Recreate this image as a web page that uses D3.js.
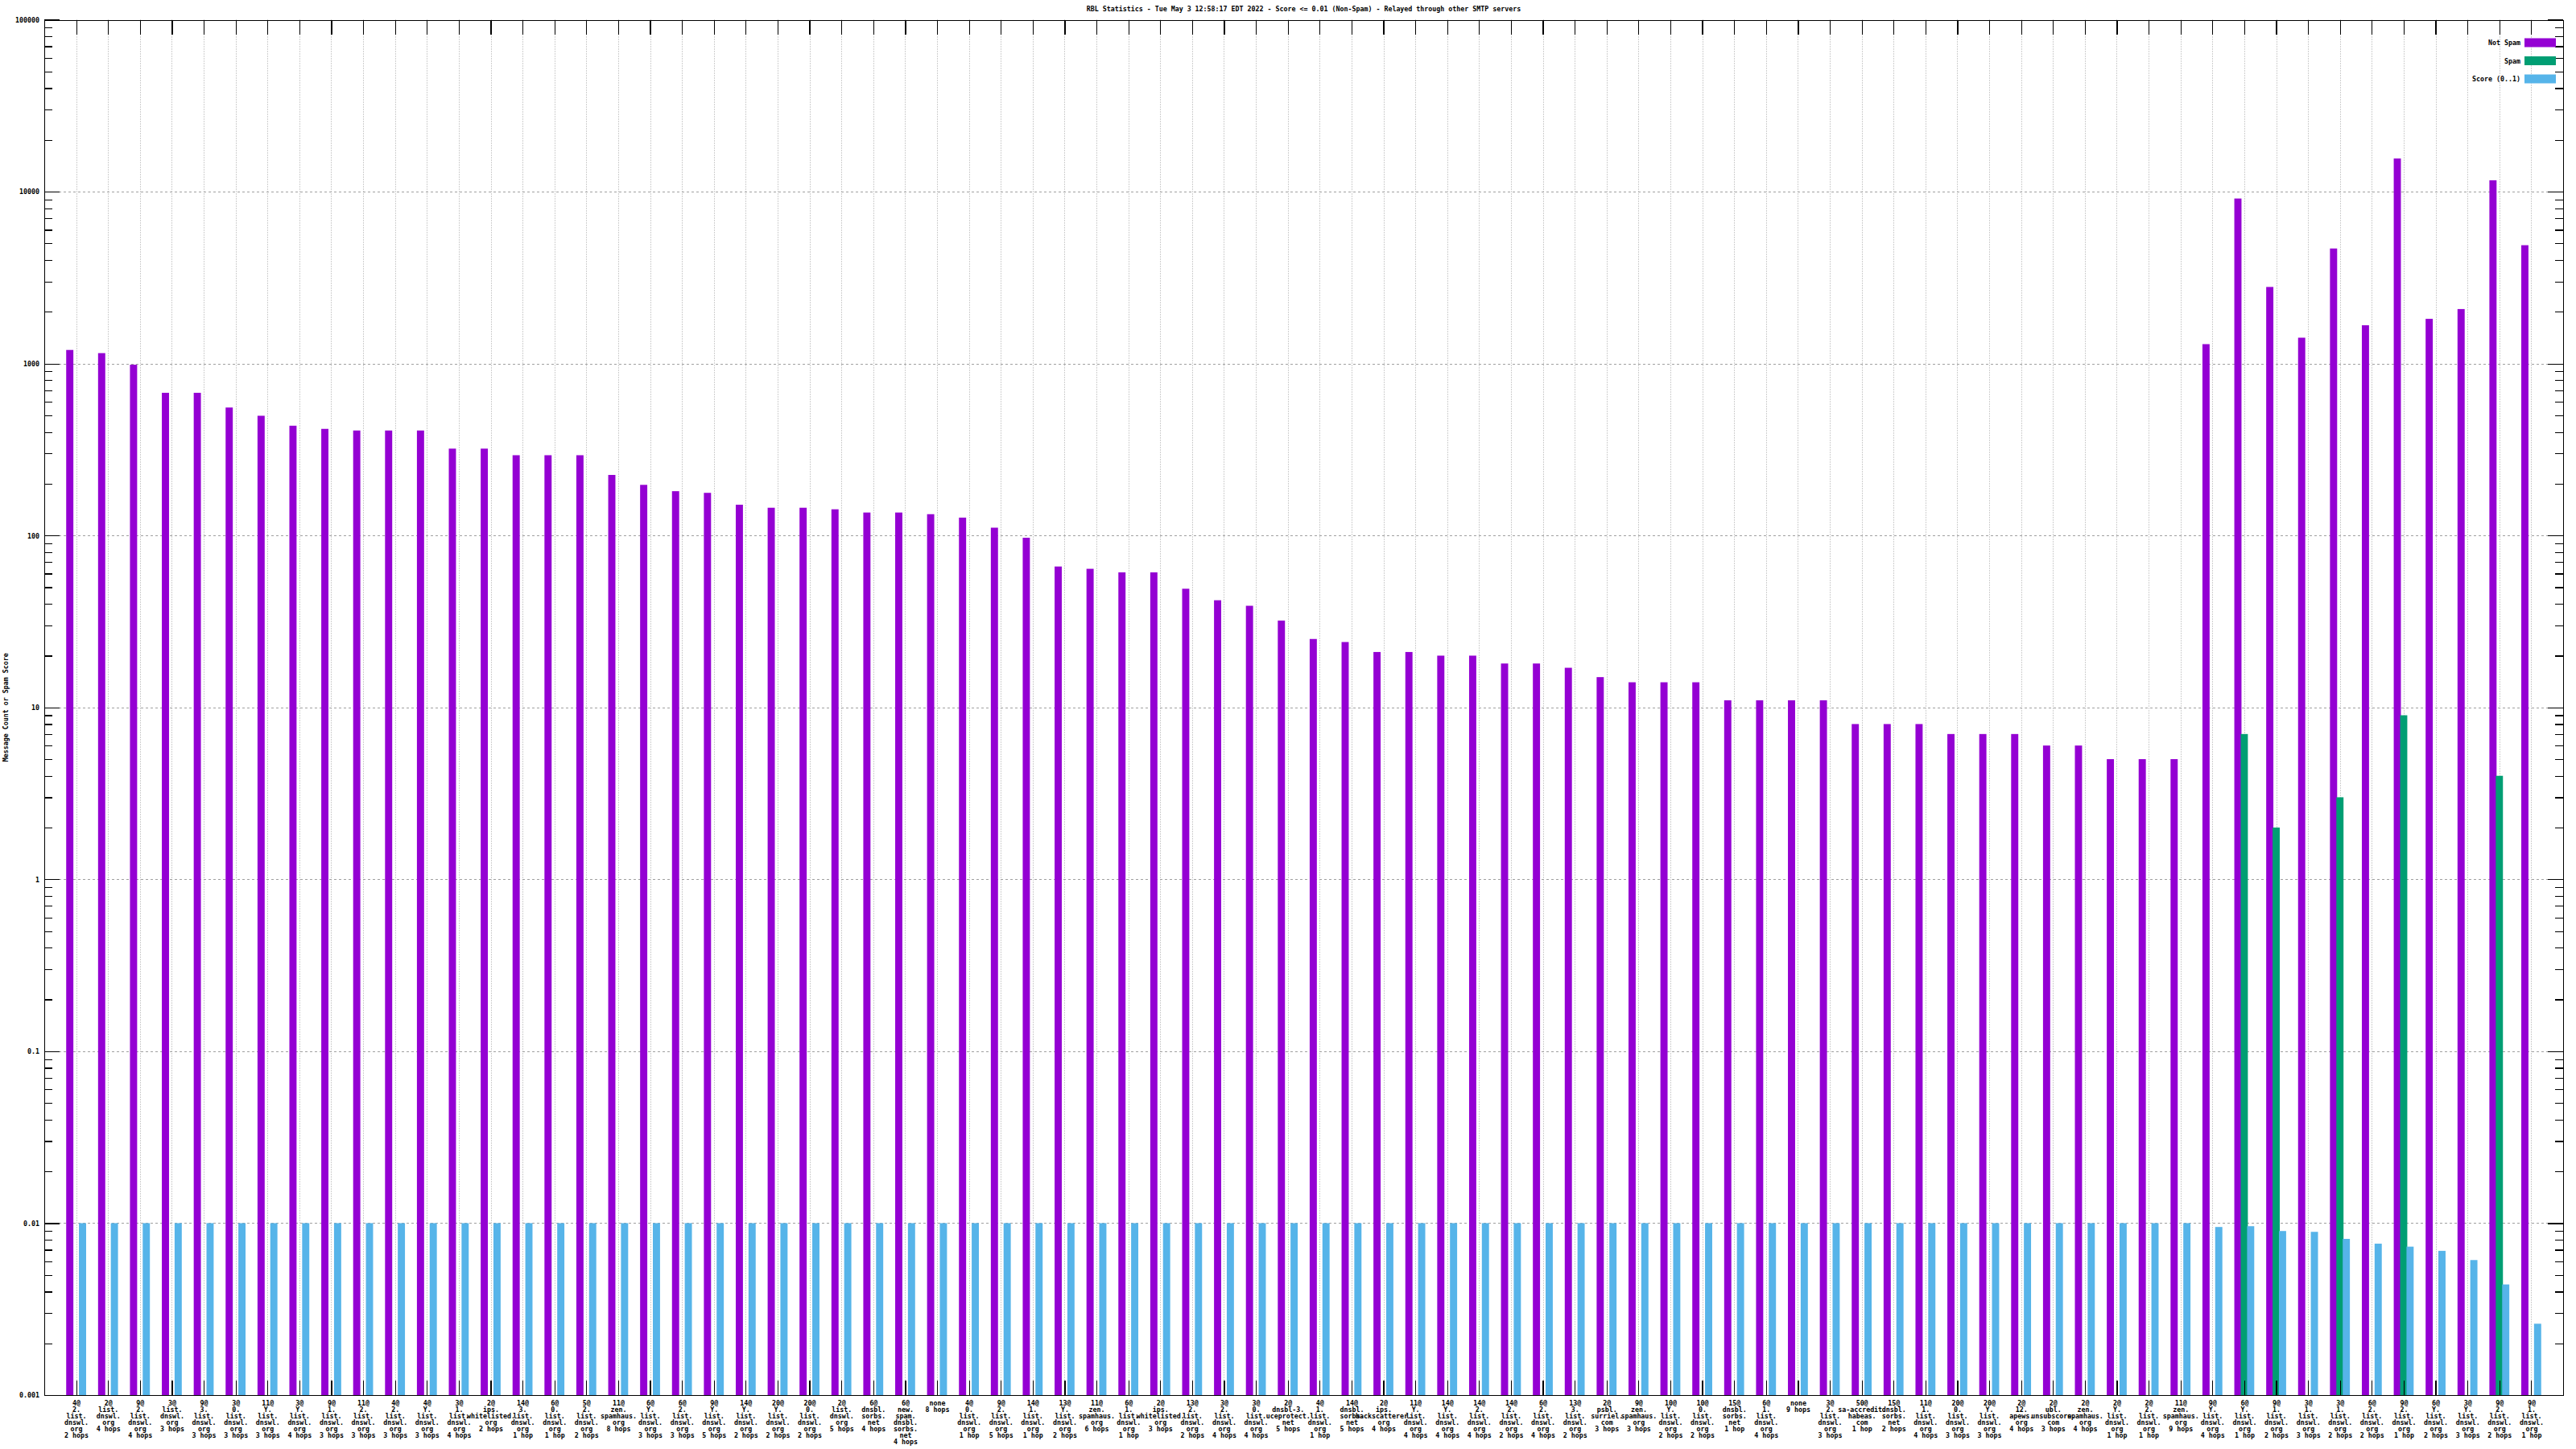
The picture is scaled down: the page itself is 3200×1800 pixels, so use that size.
<!DOCTYPE html>
<html>
<head>
<meta charset="utf-8">
<script src="https://cdn.jsdelivr.net/npm/d3@7"></script>
<style>
  html, body { margin: 0; padding: 0; background: #fff; }
  svg { display: block; }
  text { font-family: "DejaVu Sans Mono", "Liberation Mono", monospace; font-size: 8.3px; font-weight: bold; fill: #000; }
</style>
</head>
<body>
<script>
// ---------------- DATA ----------------
const categories = [
  "4@2.list.dnswl.org 2 hops", "2@list.dnswl.org 4 hops", "9@2.list.dnswl.org 4 hops", "3@list.dnswl.org 3 hops",
  "9@3.list.dnswl.org 3 hops", "3@0.list.dnswl.org 3 hops", "11@Y.list.dnswl.org 3 hops", "3@Y.list.dnswl.org 4 hops",
  "9@1.list.dnswl.org 3 hops", "11@2.list.dnswl.org 3 hops", "4@2.list.dnswl.org 3 hops", "4@Y.list.dnswl.org 3 hops",
  "3@1.list.dnswl.org 4 hops", "2@ips.whitelisted.org 2 hops", "14@3.list.dnswl.org 1 hop", "6@0.list.dnswl.org 1 hop",
  "5@2.list.dnswl.org 2 hops", "11@zen.spamhaus.org 8 hops", "6@Y.list.dnswl.org 3 hops", "6@2.list.dnswl.org 3 hops",
  "9@Y.list.dnswl.org 5 hops", "14@Y.list.dnswl.org 2 hops", "20@Y.list.dnswl.org 2 hops", "20@0.list.dnswl.org 2 hops",
  "2@list.dnswl.org 5 hops", "6@dnsbl.sorbs.net 4 hops", "6@new.spam.dnsbl.sorbs.net 4 hops", "none 8 hops",
  "4@0.list.dnswl.org 1 hop", "9@2.list.dnswl.org 5 hops", "14@1.list.dnswl.org 1 hop", "13@Y.list.dnswl.org 2 hops",
  "11@zen.spamhaus.org 6 hops", "6@1.list.dnswl.org 1 hop", "2@ips.whitelisted.org 3 hops", "13@2.list.dnswl.org 2 hops",
  "3@2.list.dnswl.org 4 hops", "3@0.list.dnswl.org 4 hops", "2@dnsbl-3.uceprotect.net 5 hops", "4@1.list.dnswl.org 1 hop",
  "14@dnsbl.sorbs.net 5 hops", "2@ips.backscatterer.org 4 hops", "11@Y.list.dnswl.org 4 hops", "14@Y.list.dnswl.org 4 hops",
  "14@2.list.dnswl.org 4 hops", "14@2.list.dnswl.org 2 hops", "6@2.list.dnswl.org 4 hops", "13@3.list.dnswl.org 2 hops",
  "2@psbl.surriel.com 3 hops", "9@zen.spamhaus.org 3 hops", "10@Y.list.dnswl.org 2 hops", "10@0.list.dnswl.org 2 hops",
  "15@dnsbl.sorbs.net 1 hop", "6@1.list.dnswl.org 4 hops", "none 9 hops", "3@2.list.dnswl.org 3 hops",
  "50@sa-accredit.habeas.com 1 hop", "15@dnsbl.sorbs.net 2 hops", "11@1.list.dnswl.org 4 hops", "20@0.list.dnswl.org 3 hops",
  "20@Y.list.dnswl.org 3 hops", "2@12.apews.org 4 hops", "2@ubl.unsubscore.com 3 hops", "2@zen.spamhaus.org 4 hops",
  "2@Y.list.dnswl.org 1 hop", "2@2.list.dnswl.org 1 hop", "11@zen.spamhaus.org 9 hops", "9@Y.list.dnswl.org 4 hops",
  "6@Y.list.dnswl.org 1 hop", "9@1.list.dnswl.org 2 hops", "3@1.list.dnswl.org 3 hops", "3@1.list.dnswl.org 2 hops",
  "6@2.list.dnswl.org 2 hops", "9@2.list.dnswl.org 1 hop", "6@Y.list.dnswl.org 2 hops", "3@Y.list.dnswl.org 3 hops",
  "9@2.list.dnswl.org 2 hops", "9@1.list.dnswl.org 1 hop"
];

const notSpam = [
  1200, 1150, 985, 676, 676, 555, 497, 435, 417, 408,
  408, 408, 320, 320, 293, 293, 293, 225, 197, 181,
  177, 151, 145, 145, 142, 136, 136, 133, 127, 111,
  97, 66, 64, 61, 61, 49, 42, 39, 32, 25,
  24, 21, 21, 20, 20, 18, 18, 17, 15, 14,
  14, 14, 11, 11, 11, 11, 8, 8, 8, 7,
  7, 7, 6, 6, 5, 5, 5, 1297, 9120, 2790,
  1414, 4670, 1670, 15600, 1820, 2075, 11640, 4880
];

const spam = [
  0, 0, 0, 0, 0, 0, 0, 0, 0, 0,
  0, 0, 0, 0, 0, 0, 0, 0, 0, 0,
  0, 0, 0, 0, 0, 0, 0, 0, 0, 0,
  0, 0, 0, 0, 0, 0, 0, 0, 0, 0,
  0, 0, 0, 0, 0, 0, 0, 0, 0, 0,
  0, 0, 0, 0, 0, 0, 0, 0, 0, 0,
  0, 0, 0, 0, 0, 0, 0, 0, 7, 2,
  0, 3, 0, 9, 0, 0, 4, 0
];

const score = [
  0.01, 0.01, 0.01, 0.01, 0.01, 0.01, 0.01, 0.01, 0.01, 0.01,
  0.01, 0.01, 0.01, 0.01, 0.01, 0.01, 0.01, 0.01, 0.01, 0.01,
  0.01, 0.01, 0.01, 0.01, 0.01, 0.01, 0.01, 0.01, 0.01, 0.01,
  0.01, 0.01, 0.01, 0.01, 0.01, 0.01, 0.01, 0.01, 0.01, 0.01,
  0.01, 0.01, 0.01, 0.01, 0.01, 0.01, 0.01, 0.01, 0.01, 0.01,
  0.01, 0.01, 0.01, 0.01, 0.01, 0.01, 0.01, 0.01, 0.01, 0.01,
  0.01, 0.01, 0.01, 0.01, 0.01, 0.01, 0.01, 0.0095, 0.0096, 0.009,
  0.0089, 0.0081, 0.0076, 0.0073, 0.0069, 0.0061, 0.0044, 0.0026
];

const yTicks = [0.001, 0.01, 0.1, 1, 10, 100, 1000, 10000, 100000];
const yTickLabels = ["0.001", "0.01", "0.1", "1", "10", "100", "1000", "10000", "100000"];
const seriesNames = ["Not Spam", "Spam", "Score (0..1)"];
const seriesColors = ["#9400d3", "#009e73", "#56b4e9"];
const title = "RBL Statistics - Tue May  3 12:58:17 EDT 2022 - Score <= 0.01 (Non-Spam) - Relayed through other SMTP servers";
const yLabel = "Message Count or Spam Score";

// ---------------- LAYOUT ----------------
const W = 3200, H = 1800;
const L = 55, R = 3184, T = 24.5, B = 1733;

const svg = d3.select("body").append("svg").attr("width", W).attr("height", H);

const x = d3.scaleLinear().domain([-1, categories.length]).range([L, R]);
const y = d3.scaleLog().domain([0.001, 100000]).range([B, T]);
const unit = x(1) - x(0);

const minorTicks = [];
for (let e = -3; e < 5; e++) for (let m = 2; m <= 9; m++) minorTicks.push(m * Math.pow(10, e));

// grid
const grid = svg.append("g");
grid.selectAll("line.hg").data(yTicks.slice(1, -1)).enter().append("line")
  .attr("x1", L).attr("x2", R).attr("y1", d => Math.round(y(d)) + 0.5).attr("y2", d => Math.round(y(d)) + 0.5)
  .attr("stroke", "#a0a0a0").attr("stroke-width", 1).attr("stroke-dasharray", "3,3");
grid.selectAll("line.vg").data(d3.range(categories.length)).enter().append("line")
  .attr("x1", d => Math.round(x(d)) + 0.5).attr("x2", d => Math.round(x(d)) + 0.5).attr("y1", T).attr("y2", B)
  .attr("stroke", "#a0a0a0").attr("stroke-width", 1).attr("stroke-dasharray", "1,2");

// bars
const series = [notSpam, spam, score];
const offsets = [-0.2, 0, 0.2];
const bw = 0.225 * unit;
series.forEach((vals, s) => {
  svg.append("g").selectAll("rect").data(vals.map((v, i) => ({ v, i })).filter(d => d.v > 0)).enter().append("rect")
    .attr("x", d => x(d.i + offsets[s]) - bw / 2)
    .attr("width", bw)
    .attr("y", d => y(d.v))
    .attr("height", d => B - y(d.v))
    .attr("fill", seriesColors[s]);
});

// axes
function styleAxis(g) {
  g.selectAll("path.domain").attr("stroke", "#000").attr("stroke-width", 1).attr("shape-rendering", "crispEdges");
  g.selectAll(".tick line").attr("stroke", "#000").attr("stroke-width", 1.2).attr("shape-rendering", "crispEdges");
}

// left major
const yAxisL = svg.append("g").attr("transform", `translate(${L},0)`)
  .call(d3.axisLeft(y).tickValues(yTicks).tickFormat((d, i) => yTickLabels[i]).tickSizeInner(-19).tickSizeOuter(0).tickPadding(6));
styleAxis(yAxisL);
yAxisL.selectAll("text").attr("x", -6).attr("dy", "0.35em");
// left minor
const yAxisLm = svg.append("g").attr("transform", `translate(${L},0)`)
  .call(d3.axisLeft(y).tickValues(minorTicks).tickFormat("").tickSizeInner(-10).tickSizeOuter(0));
styleAxis(yAxisLm);
yAxisLm.select("path.domain").remove();
// right major + minor
const yAxisR = svg.append("g").attr("transform", `translate(${R},0)`)
  .call(d3.axisRight(y).tickValues(yTicks).tickFormat("").tickSizeInner(-19).tickSizeOuter(0));
styleAxis(yAxisR);
const yAxisRm = svg.append("g").attr("transform", `translate(${R},0)`)
  .call(d3.axisRight(y).tickValues(minorTicks).tickFormat("").tickSizeInner(-10).tickSizeOuter(0));
styleAxis(yAxisRm);
yAxisRm.select("path.domain").remove();

// bottom axis with multi-line labels
function labelLines(s) {
  const m = s.match(/^(.*) (\d+ hops?)$/);
  const head = m[1], hops = m[2];
  if (head.indexOf("@") < 0) return [head, hops];
  const at = head.indexOf("@");
  const n = head.slice(0, at + 1), host = head.slice(at + 1);
  const parts = host.split(".");
  return [n, ...parts.map((p, i) => i < parts.length - 1 ? p + "." : p), hops];
}
const xAxisB = svg.append("g").attr("transform", `translate(0,${B})`)
  .call(d3.axisBottom(x).tickValues(d3.range(categories.length)).tickFormat(i => categories[i]).tickSizeInner(-18).tickSizeOuter(0));
styleAxis(xAxisB);
xAxisB.selectAll(".tick text").each(function (i) {
  const t = d3.select(this);
  const lines = labelLines(categories[i]);
  t.text(null).attr("y", 13).attr("dy", null).attr("text-anchor", "middle");
  lines.forEach((ln, k) => t.append("tspan").attr("x", 0).attr("y", 13 + 8 * k).text(ln));
});
const xAxisT = svg.append("g").attr("transform", `translate(0,${T})`)
  .call(d3.axisTop(x).tickValues(d3.range(categories.length)).tickFormat("").tickSizeInner(-18).tickSizeOuter(0));
styleAxis(xAxisT);

// title
svg.append("text").attr("x", (L + R) / 2).attr("y", 13.5).attr("text-anchor", "middle").text(title);

// y label
svg.append("text").attr("transform", `translate(10,${(T + B) / 2}) rotate(-90)`)
  .attr("text-anchor", "middle").text(yLabel);

// legend
const lg = svg.append("g");
const legendRows = [53, 75.5, 98];
seriesNames.forEach((nm, i) => {
  lg.append("text").attr("x", 3131).attr("y", legendRows[i] + 3).attr("text-anchor", "end").text(nm);
  lg.append("rect").attr("x", 3136).attr("y", legendRows[i] - 5.5).attr("width", 39).attr("height", 11).attr("fill", seriesColors[i]);
});
</script>
</body>
</html>
